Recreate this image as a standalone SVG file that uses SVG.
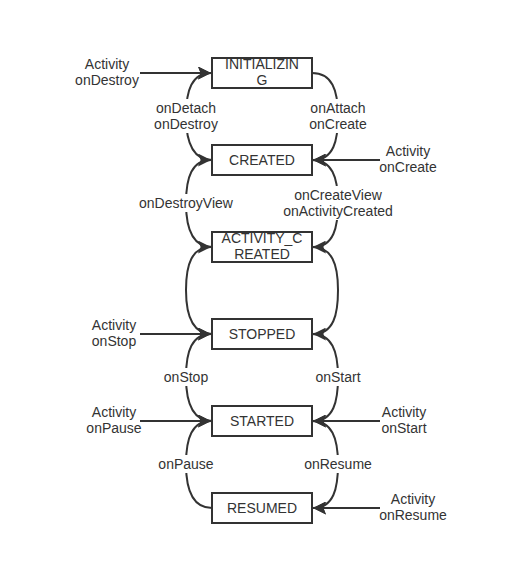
<svg xmlns="http://www.w3.org/2000/svg" width="505" height="564" viewBox="0 0 505 564">
<defs>
<marker id="ah" viewBox="0 0 10 10" refX="10" refY="5" markerWidth="13" markerHeight="13" markerUnits="userSpaceOnUse" orient="auto">
<path d="M0,0 L10,5 L0,10 L2,5 Z" fill="#333"/>
</marker>
<style>
.box{fill:#fff;stroke:#333;stroke-width:2}
.t{font-family:"Liberation Sans",Arial,sans-serif;font-size:14px;fill:#333;text-anchor:middle}
.c{fill:none;stroke:#333;stroke-width:2;marker-end:url(#ah)}
.lb{fill:#fff}
</style>
</defs>
<rect width="505" height="564" fill="#fff"/>
<g id="connectors">
<path class="c" d="M312,73 C332,73 338,90 338,116 C338,140 334,160 313,160"/>
<path class="c" d="M312,160 C332,160 338,177 338,203 C338,227 334,247 313,247"/>
<path class="c" d="M312,247 C332,247 338,264 338,290 C338,314 334,334 313,334"/>
<path class="c" d="M312,334 C332,334 338,351 338,377 C338,401 334,421 313,421"/>
<path class="c" d="M312,421 C332,421 338,438 338,464 C338,488 334,508 313,508"/>
<path class="c" d="M212,160 C192,160 186,140 186,116 C186,90 192,73 211,73"/>
<path class="c" d="M212,247 C192,247 186,227 186,203 C186,177 192,160 211,160"/>
<path class="c" d="M212,334 C192,334 186,314 186,290 C186,264 192,247 211,247"/>
<path class="c" d="M212,421 C192,421 186,401 186,377 C186,351 192,334 211,334"/>
<path class="c" d="M212,508 C192,508 186,488 186,464 C186,438 192,421 211,421"/>
<path class="c" d="M140,73 L211,73"/>
<path class="c" d="M380,160 L313,160"/>
<path class="c" d="M140,334 L211,334"/>
<path class="c" d="M140,421 L211,421"/>
<path class="c" d="M380,421 L313,421"/>
<path class="c" d="M380,508 L313,508"/>
</g>
<g id="labels">
<rect class="lb" x="148" y="99" width="76" height="34"/>
<text class="t" x="186" y="113">onDetach</text>
<text class="t" x="186" y="129">onDestroy</text>
<rect class="lb" x="304" y="99" width="68" height="34"/>
<text class="t" x="338" y="113">onAttach</text>
<text class="t" x="338" y="129">onCreate</text>
<rect class="lb" x="134" y="194" width="104" height="18"/>
<text class="t" x="186" y="208">onDestroyView</text>
<rect class="lb" x="278" y="186" width="122" height="34"/>
<text class="t" x="338" y="200">onCreateView</text>
<text class="t" x="338" y="216">onActivityCreated</text>
<rect class="lb" x="158" y="368" width="56" height="18"/>
<text class="t" x="186" y="382">onStop</text>
<rect class="lb" x="310" y="368" width="56" height="18"/>
<text class="t" x="338" y="382">onStart</text>
<rect class="lb" x="155" y="455" width="62" height="18"/>
<text class="t" x="186" y="469">onPause</text>
<rect class="lb" x="301" y="455" width="74" height="18"/>
<text class="t" x="338" y="469">onResume</text>
<text class="t" x="107" y="69">Activity</text>
<text class="t" x="107" y="85">onDestroy</text>
<text class="t" x="408" y="156">Activity</text>
<text class="t" x="408" y="172">onCreate</text>
<text class="t" x="114" y="330">Activity</text>
<text class="t" x="114" y="346">onStop</text>
<text class="t" x="114" y="417">Activity</text>
<text class="t" x="114" y="433">onPause</text>
<text class="t" x="404" y="417">Activity</text>
<text class="t" x="404" y="433">onStart</text>
<text class="t" x="413" y="504">Activity</text>
<text class="t" x="413" y="520">onResume</text>
</g>
<g id="INITIALIZING">
<rect class="box" x="212" y="58" width="100" height="30"/>
<text class="t" x="262" y="69">INITIALIZIN</text>
<text class="t" x="262" y="85">G</text>
</g>
<g id="CREATED">
<rect class="box" x="212" y="145" width="100" height="30"/>
<text class="t" x="262" y="165">CREATED</text>
</g>
<g id="ACTIVITY_CREATED">
<rect class="box" x="212" y="232" width="100" height="30"/>
<text class="t" x="262" y="243">ACTIVITY_C</text>
<text class="t" x="262" y="259">REATED</text>
</g>
<g id="STOPPED">
<rect class="box" x="212" y="319" width="100" height="30"/>
<text class="t" x="262" y="339">STOPPED</text>
</g>
<g id="STARTED">
<rect class="box" x="212" y="406" width="100" height="30"/>
<text class="t" x="262" y="426">STARTED</text>
</g>
<g id="RESUMED">
<rect class="box" x="212" y="493" width="100" height="30"/>
<text class="t" x="262" y="513">RESUMED</text>
</g>
</svg>
